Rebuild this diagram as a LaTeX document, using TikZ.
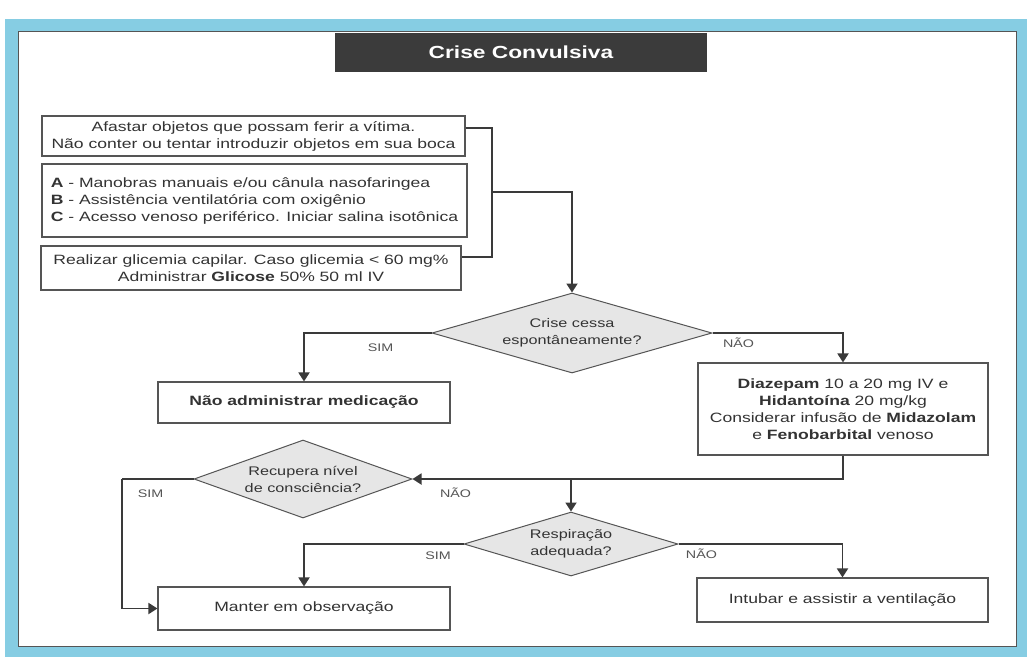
\documentclass[tikz,border=0pt]{standalone}
\usepackage{fontspec}
\setmainfont{Liberation Sans}[FakeStretch=1.3]
\usetikzlibrary{shapes.geometric,arrows.meta,calc}
\definecolor{ink}{HTML}{333333}
\definecolor{boxline}{HTML}{555555}
\definecolor{wire}{HTML}{3A3A3A}
\definecolor{decfill}{HTML}{E6E6E6}
\definecolor{lblcol}{HTML}{555555}
\definecolor{titlefill}{HTML}{3B3B3B}
\definecolor{frameblue}{HTML}{86CDE3}
\begin{document}
\begin{tikzpicture}[x=1pt,y=-1pt,
  box/.style={draw=boxline,line width=1.1pt,fill=white,text=ink,inner sep=0pt,
    font=\fontsize{13.5}{17}\selectfont,align=center},
  dec/.style={diamond,draw=boxline,line width=1pt,fill=decfill,inner sep=0pt,
    text=ink,font=\fontsize{12.5}{17}\selectfont,align=center},
  conn/.style={draw=wire,line width=1.8pt},
  arr/.style={conn,-{Triangle[width=11pt,length=9pt]}},
  lbl/.style={text=lblcol,font=\fontsize{11}{13}\selectfont,inner sep=2pt}]
\useasboundingbox (0,0) rectangle (1029,657);
% page background and blue frame
\fill[white] (0,0) rectangle (1029,657);
\fill[frameblue] (5,19) rectangle (1027,657);
\draw[fill=white,draw=boxline,line width=1pt] (18,31) rectangle (1016,646);

% title bar
\node[fill=titlefill,text=white,minimum width=372,minimum height=39,inner sep=0pt,
  font=\fontsize{17.5}{19}\selectfont\bfseries] (title) at (521,52.5) {Crise Convulsiva};

% first aid steps
\node[box,minimum width=423,minimum height=40] (b1) at (253.5,136)
  {Afastar objetos que possam ferir a vítima.\\Não conter ou tentar introduzir objetos em sua boca};
\node[box,minimum width=425,minimum height=73,align=left] (b2) at (254.5,200.5)
  {\textbf{A} - Manobras manuais e/ou cânula nasofaringea\\
   \textbf{B} - Assistência ventilatória com oxigênio\\
   \textbf{C} - Acesso venoso periférico. Iniciar salina isotônica};
\node[box,minimum width=420,minimum height=44] (b3) at (251,268)
  {Realizar glicemia capilar. Caso glicemia < 60 mg\%\\Administrar \textbf{Glicose} 50\% 50 ml IV};

% decisions
\node[dec,minimum width=280,minimum height=80,shape aspect=3.5] (d1) at (572,333)
  {Crise cessa\\espontâneamente?};
\node[dec,minimum width=218,minimum height=78,shape aspect=2.8] (d2) at (303,479)
  {Recupera nível\\de consciência?};
\node[dec,minimum width=214,minimum height=64,shape aspect=3.34] (d3) at (571,544)
  {Respiração\\adequada?};

% outcomes
\node[box,minimum width=292,minimum height=41,font=\fontsize{13.5}{17}\selectfont\bfseries] (nomed) at (304,402.5)
  {Não administrar medicação};
\node[box,minimum width=290,minimum height=92] (drug) at (843,409)
  {\textbf{Diazepam} 10 a 20 mg IV e\\\textbf{Hidantoína} 20 mg/kg\\
   Considerar infusão de \textbf{Midazolam}\\e \textbf{Fenobarbital} venoso};
\node[box,minimum width=292,minimum height=43] (obs) at (304,608.5)
  {Manter em observação};
\node[box,minimum width=291,minimum height=44] (intub) at (842.5,600)
  {Intubar e assistir a ventilação};

% connectors
\coordinate (brk) at (492,192);
\coordinate (simleft) at (122,479);
\draw[conn] ([yshift=8pt]b1.east) -| (brk) |- ([yshift=11pt]b3.east);
\draw[arr] (brk) -| (d1.north);
\draw[arr] (d1.west) -| node[lbl,pos=0.2,below=8pt] {SIM} (nomed.north);
\draw[arr] (d1.east) -| node[lbl,pos=0.1,below=2pt] {NÃO} (drug.north);
\draw[arr] (drug.south) |- node[lbl,pos=0.95,below=6pt] {NÃO} (d2.east);
\draw[arr] (d3.north |- d2.east) -- (d3.north);
\draw[conn] (d2.west) -- node[lbl,pos=0.6,below=8pt] {SIM} (simleft);
\draw[arr] (simleft) |- (obs.west);
\draw[arr] (d3.west) -| node[lbl,pos=0.08,below=5pt] {SIM} (obs.north);
\draw[arr] (d3.east) -| node[lbl,pos=0.07,below=2pt] {NÃO} (intub.north);
\end{tikzpicture}
\end{document}
